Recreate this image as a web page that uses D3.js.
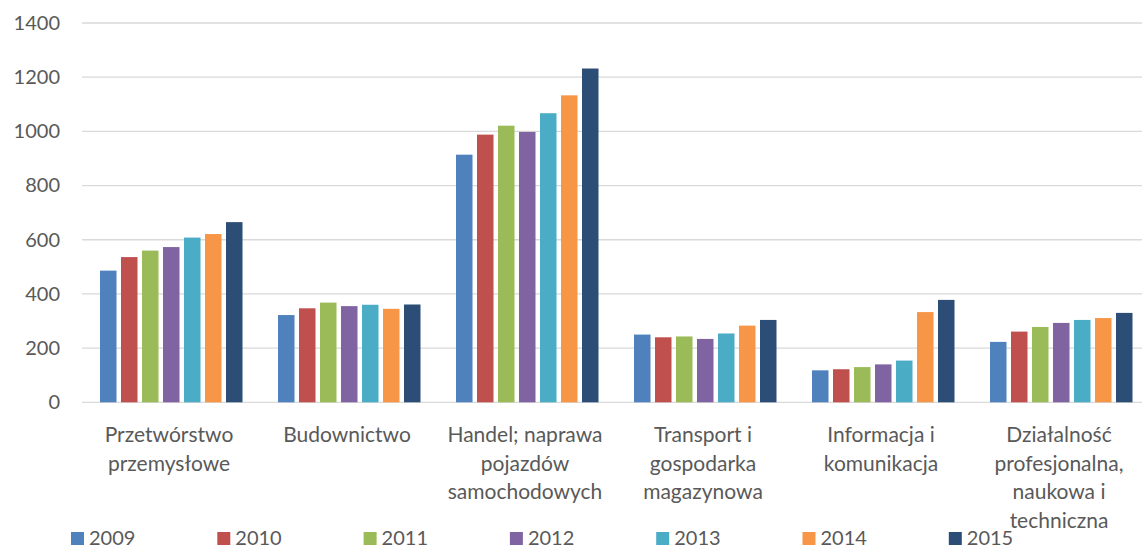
<!DOCTYPE html>
<html>
<head>
<meta charset="utf-8">
<script src="https://cdn.jsdelivr.net/npm/d3@7"></script>
<style>
    body { margin: 0; background: #fff; }
    text { font-family: Lato, "Open Sans", sans-serif; fill: #595959; }
</style>
</head>
<body>
<svg id="chart"></svg>
<script>
// values

let categories = [
    "Przetwórstwo przemysłowe",
    "Budownictwo",
    "Handel; naprawa pojazdów samochodowych",
    "Transport i gospodarka magazynowa",
    "Informacja i komunikacja",
    "Działalność profesjonalna, naukowa i techniczna"
]

// how the labels are broken into lines under the axis
let categoryLines = [
    ["Przetwórstwo", "przemysłowe"],
    ["Budownictwo"],
    ["Handel; naprawa", "pojazdów", "samochodowych"],
    ["Transport i", "gospodarka", "magazynowa"],
    ["Informacja i", "komunikacja"],
    ["Działalność", "profesjonalna,", "naukowa i", "techniczna"]
]

let years = ["2009", "2010", "2011", "2012", "2013", "2014", "2015"]

let v2009 = [486, 322, 914, 250, 118, 223]
let v2010 = [536, 347, 988, 240, 122, 261]
let v2011 = [560, 368, 1021, 243, 130, 278]
let v2012 = [573, 355, 998, 234, 140, 293]
let v2013 = [608, 360, 1067, 254, 154, 304]
let v2014 = [621, 345, 1133, 283, 333, 311]
let v2015 = [665, 361, 1232, 304, 378, 330]

let yTicks = [0, 200, 400, 600, 800, 1000, 1200, 1400]

let colors = ["#4f81bd", "#c0504d", "#9bbb59", "#8064a2", "#4bacc6", "#f79646", "#2c4d75"]

let series = [v2009, v2010, v2011, v2012, v2013, v2014, v2015]

let width = 1142
let height = 549

let svg = d3.select("#chart")
    .attr("width", width)
    .attr("height", height)

let x0 = d3.scaleBand()
    .domain(categories)
    .range([82, 1150])

let x1 = d3.scaleBand()
    .domain(years)
    .range([18, 160.5])
    .paddingInner(0.214)

let y = d3.scaleLinear()
    .domain([0, 1400])
    .range([402.3, 23])

let color = d3.scaleOrdinal()
    .domain(years)
    .range(colors)

// gridlines
svg.append("g")
    .selectAll("line")
    .data(yTicks)
    .enter()
    .append("line")
    .attr("x1", 82)
    .attr("x2", 1150)
    .attr("y1", d => y(d))
    .attr("y2", d => y(d))
    .attr("stroke", "#d9d9d9")
    .attr("stroke-width", 1.3)

// y axis labels
let yAxis = d3.axisLeft(y)
    .tickValues(yTicks)
    .tickFormat(d3.format("d"))
    .tickSize(0)
    .tickPadding(0)

svg.append("g")
    .attr("transform", "translate(60,0)")
    .call(yAxis)
    .call(g => g.select(".domain").remove())
    .selectAll("text")
    .style("font-family", "Lato, sans-serif")
    .style("font-size", "20px")
    .style("fill", "#595959")

// bars
let groups = svg.selectAll(".year")
    .data(years)
    .enter()
    .append("g")
    .attr("class", "year")
    .attr("fill", d => color(d))

groups.selectAll("rect")
    .data((d, i) => series[i].map((v, j) => ({ cat: categories[j], year: d, value: v })))
    .enter()
    .append("rect")
    .attr("x", d => x0(d.cat) + x1(d.year))
    .attr("width", x1.bandwidth())
    .attr("y", d => y(d.value))
    .attr("height", d => y(0) - y(d.value))

// category labels
let catLabels = svg.selectAll(".cat")
    .data(categories)
    .enter()
    .append("text")
    .attr("class", "cat")
    .attr("text-anchor", "middle")
    .style("font-size", "21px")

catLabels.selectAll("tspan")
    .data((d, i) => categoryLines[i].map(t => ({ cat: d, t: t })))
    .enter()
    .append("tspan")
    .attr("x", d => x0(d.cat) + x0.bandwidth() / 2 - 2)
    .attr("y", (d, i) => 442 + i * 28.7)
    .text(d => d.t)

// legend
let legend = svg.selectAll(".legend")
    .data(years)
    .enter()
    .append("g")
    .attr("class", "legend")
    .attr("transform", (d, i) => "translate(" + (71 + i * 146.3) + ",532)")

legend.append("rect")
    .attr("width", 13)
    .attr("height", 13)
    .attr("fill", d => color(d))

legend.append("text")
    .attr("x", 18)
    .attr("y", 13)
    .style("font-size", "20px")
    .text(d => d)
</script>
</body>
</html>
